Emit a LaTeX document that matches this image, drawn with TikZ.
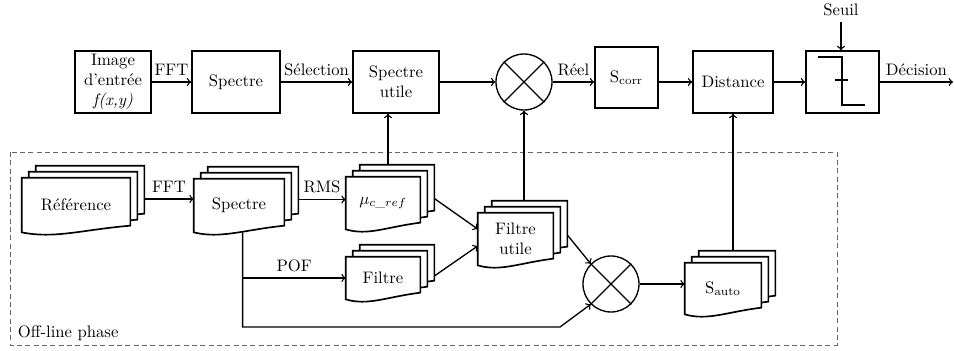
\documentclass[tikz,border=0pt]{standalone}
\usepackage{amsmath}
\usepackage{tikz}
\usetikzlibrary{calc}

\tikzset{
  blk/.style={rectangle, draw, line width=1pt, minimum height=37.2pt, align=center, inner sep=1pt},
  mult/.style={circle, draw, thick, minimum size=33.6pt, inner sep=0pt},
  docnode/.style={rectangle, inner sep=0pt},
  arr/.style={->, thick},
}

% one page of a stack, wavy bottom
\newcommand{\docpage}[1]{%
  \draw[line width=1pt, fill=white] (#1.south west) -- (#1.north west) -- (#1.north east) -- ([yshift=4pt]#1.south east)
    .. controls ($(#1.south west)!0.55!(#1.south east)+(0,1.5pt)$) and ($(#1.south west)!0.3!(#1.south east)+(0,-4pt)$) .. (#1.south west) -- cycle;}

% name, position, size, text
\newcommand{\docstack}[4]{%
  \node[docnode, #3] (#1) at (#2) {};
  \node[docnode, #3] (#1b) at ([shift={(4.2pt,3.6pt)}]#1.center) {};
  \node[docnode, #3] (#1c) at ([shift={(8.4pt,7.2pt)}]#1.center) {};
  \docpage{#1c}\docpage{#1b}\docpage{#1}
  \node[align=center] (#1t) at (#1.center) {#4};}

\begin{document}
\begin{tikzpicture}[x=0.6pt, y=-0.6pt]
  \useasboundingbox (0,0) rectangle (954,350);

  % Off-line frame
  \draw[densely dashed, gray!80!black, semithick] (10,152) rectangle (837,345);
  \node[anchor=west] (offline) at (12,333) {Off-line phase};

  % Nodes (on-line chain)
  \node[blk, minimum width=45.6pt] (img) at (113,82) {Image\\d'entr\'ee\\\textit{f(x,y)}};
  \node[blk, minimum width=52.8pt] (spec) at (236,82) {Spectre};
  \node[blk, minimum width=51.6pt] (specu) at (396,82) {Spectre\\utile};
  \node[mult] (c1) at (524,82) {};
  \node[blk, minimum width=37.8pt, minimum height=36.6pt] (scorr) at (626.5,77.5) {S$_{\mathrm{corr}}$};
  \node[blk, minimum width=48pt] (dist) at (733,82) {Distance};
  \node[blk, minimum width=43.8pt] (thr) at (842.5,82) {};
  \node (seuil) at (841,10) {Seuil};
  \coordinate (out) at (953,82);

  % threshold symbol
  \draw[thick] (818,57) -- (842,57) -- (842,105) -- (865,105);
  \draw[thick] (835,80) -- (848,80);

  % Document stacks (off-line)
  \docstack{ref}{76,205}{minimum width=64.8pt, minimum height=32.4pt}{R\'ef\'erence}
  \docstack{spd}{239,205.5}{minimum width=54pt, minimum height=31.8pt}{Spectre}
  \docstack{mu}{383,203}{minimum width=44.4pt, minimum height=31.2pt}{$\mu_{c\_ref}$}
  \docstack{fil}{383,278}{minimum width=44.4pt, minimum height=25.2pt}{Filtre}
  \docstack{fut}{515.5,239}{minimum width=45pt, minimum height=31.2pt}{Filtre\\utile}
  \docstack{sau}{723,288.5}{minimum width=45.6pt, minimum height=30.6pt}{S$_{\mathrm{auto}}$}
  \node[mult] (c2) at (611,284) {};

  % crosses
  \draw[thick] (c1.north west) -- (c1.south east) (c1.north east) -- (c1.south west);
  \draw[thick] (c2.north west) -- (c2.south east) (c2.north east) -- (c2.south west);

  % Edges (top)
  \draw[arr] (img) -- (spec) node[midway, above] {FFT};
  \draw[arr] (spec) -- (specu) node[midway, above] {S\'election};
  \draw[arr] (specu) -- (c1);
  \draw[arr] (c1) -- (c1 -| scorr.west) node[midway, above] {R\'eel};
  \draw[arr] (scorr.east |- c1) -- (dist);
  \draw[arr] (dist) -- (thr);
  \draw[arr] (thr) -- (out) node[midway, above] {D\'ecision};
  \draw[arr] (seuil) -- (seuil |- thr.north);

  % Edges (off-line)
  \draw[arr] (refc.east |- refb.east) -- (refb.east -| spd.west) node[midway, above] {FFT};
  \draw[arr] (spdc.east |- spdb.east) -- (spdb.east -| mu.west) node[midway, above] {RMS};
  \coordinate (mutop) at ($(specu.south)+(-4.8pt,0)$);
  \draw[arr] (mutop |- muc.north) -- (mutop);
  \draw[arr] ([yshift=-4.5pt]muc.east) -- ([yshift=6pt]fut.west);
  \draw[arr] ([yshift=-6pt]filc.east) -- ([yshift=-4.2pt]fut.west);
  \draw[arr] (c1.south |- futc.north) -- (c1.south);
  \draw[arr] ([yshift=-4.8pt]futc.east) -- (c2.north west);
  \coordinate (spb) at ($(spd.south west)!0.54!(spd.south east)$);
  \coordinate (bend) at (560,327);
  \draw[arr] (spb) -- (spb |- bend) -- (bend) -- (c2.south west);
  \draw[arr] (spb |- fil.west) -- (fil.west) node[midway, above] {POF};
  \draw[arr] (c2) -- (c2 -| sau.west);
  \draw[arr] (dist.south |- sauc.north) -- (dist.south);
\end{tikzpicture}
\end{document}
